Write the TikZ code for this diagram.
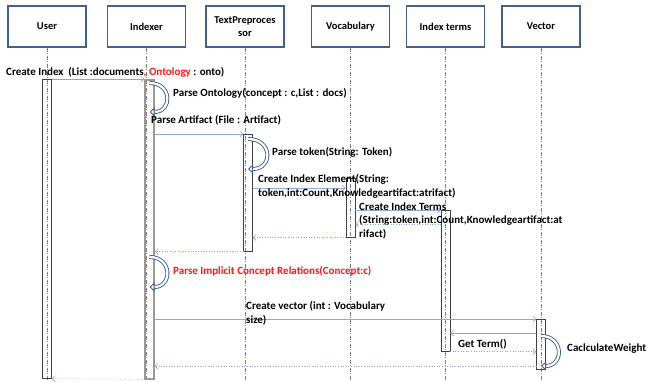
\documentclass[tikz,border=0pt]{standalone}
\usepackage{fontspec}
\setmainfont{Carlito}
\usetikzlibrary{arrows.meta,positioning}
\definecolor{boxblue}{HTML}{3F6190}
\definecolor{msgblue}{HTML}{8EA9D0}
\definecolor{redtxt}{HTML}{FF1A1A}
\tikzset{
  actor/.style={draw=boxblue, line width=1.2pt, minimum width=78pt, minimum height=41pt,
    align=center, inner sep=1pt, font=\bfseries\fontsize{10.5}{13}\selectfont},
  life/.style={gray, line width=0.5pt, dash pattern=on 4pt off 1.5pt on 1pt off 1.5pt},
  act/.style={draw=black!75, line width=0.5pt, minimum width=9pt, inner sep=0pt, anchor=north},
  msg/.style={msgblue, line width=0.6pt, -{Straight Barb[length=3pt,width=6pt]}},
  ret/.style={msg, dotted},
  selfloop/.style={draw=boxblue, double=white, double distance=2.2pt, line width=0.9pt,
    -{Triangle[open,fill=white,length=5pt,width=9pt]}},
  lbl/.style={anchor=base west, inner sep=0pt, align=left,
    font=\bfseries\fontsize{11}{13.5}\selectfont}
}
\begin{document}
\begin{tikzpicture}[x=1pt,y=-1pt]
\useasboundingbox (0,0) rectangle (649,381);
% header boxes
\node[actor] (user) at (47,26.5) {User};
\node[actor] (indexer) at (146.5,26.5) {Indexer};
\node[actor] (textpre) at (245,26.5) {TextPreproces\\sor};
\node[actor] (vocab) at (350.5,26.5) {Vocabulary};
\node[actor] (terms) at (445.5,26.5) {Index terms};
\node[actor] (vector) at (541,26.5) {Vector};
% lifelines
\foreach \n in {user,indexer,textpre,vocab,terms,vector}
  \draw[life] (\n.south) -- (\n.south |- 0,381);
% activation boxes
\node[act, minimum height=299pt] (aUser) at (user.south |- 0,79) {};
\node[act, minimum height=299pt, draw=black!40, line width=1.5pt] (aIdx) at ([xshift=3pt]indexer.south |- 0,79) {};
\node[act, minimum height=117pt] (aText) at ([xshift=3pt]textpre.south |- 0,134) {};
\node[act, minimum height=59pt] (aVoc) at (vocab.south |- 0,178) {};
\node[act, minimum height=141pt] (aTerms) at (terms.south |- 0,210) {};
\node[act, minimum height=50pt] (aVec) at (vector.south |- 0,319) {};
% messages
\draw[msg] (aUser.north east) -- (aIdx.north west);
\node[lbl] (mIndex) at (6,75) {Create Index\ \ (List :documents{\color{redtxt}, Ontology} : onto)};
\draw[selfloop] (aIdx.center |- 0,83) .. controls +(23,0) and +(23,0) .. (aIdx.center |- 0,112);
\node[lbl] (mOnto) at (173,96) {Parse Ontology(concept : c,List : docs)};
\draw[msg] (aIdx.east |- aText.north) -- (aText.north west);
\node[lbl] (mArtifact) at (151,123) {Parse Artifact (File : Artifact)};
\draw[selfloop] (aText.center |- 0,139) .. controls +(25,0) and +(25,0) .. (aText.center |- 0,169);
\node[lbl] (mToken) at (272,155) {Parse token(String: Token)};
\draw[msg] (aText.east |- 0,188) -- (aVoc.west |- 0,188);
\node[lbl] (mElement) at (258,196) {Create Index Element(String:\\token,int:Count,Knowledgeartifact:atrifact)};
\draw[msg] (aVoc.east |- aTerms.north) -- (aTerms.north west);
\node[lbl] (mTerms) at (359,237) {Create Index Terms\\(String:token,int:Count,Knowledgeartifact:at\\rifact)};
\draw[ret] (aTerms.west |- 0,224) -- (aVoc.east |- 0,224);
\draw[ret] (aVoc.south west) -- (aText.east |- aVoc.south);
\draw[ret] (aText.south west) -- (aIdx.east |- aText.south);
\draw[selfloop] (aIdx.center |- 0,257) .. controls +(23,0) and +(23,0) .. (aIdx.center |- 0,287);
\node[lbl, text=redtxt] (mImplicit) at (173,274) {Parse Implicit Concept Relations(Concept:c)};
\draw[msg] (aIdx.east |- aVec.north) -- (aVec.north west);
\node[lbl] (mVector) at (246,323) {Create vector (int : Vocabulary\\size)};
\draw[msg] (aVec.west |- 0,333) -- (aTerms.east |- 0,333);
\node[lbl] (mGet) at (458,347) {Get Term()};
\draw[ret] (aTerms.south east) -- (aVec.west |- aTerms.south);
\draw[selfloop] (aVec.center |- 0,336) .. controls +(23,0) and +(23,0) .. (aVec.center |- 0,366);
\node[lbl] (mWeight) at (567,351) {CaclculateWeight};
\draw[ret] (aVec.west |- 0,366) -- (aIdx.east |- 0,366);
\draw[ret] (aIdx.south west) -- (aUser.south east);
\end{tikzpicture}
\end{document}
